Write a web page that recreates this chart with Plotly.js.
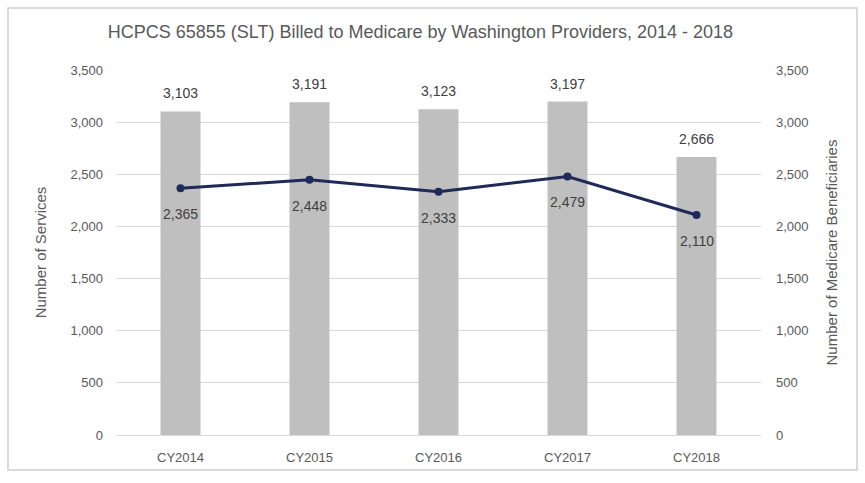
<!DOCTYPE html>
<html><head><meta charset="utf-8">
<script src="https://cdn.plot.ly/plotly-3.0.1.min.js"></script>
<style>html,body{margin:0;padding:0;background:#fff}#c{width:865px;height:483px}</style>
</head><body><div id="c"></div>
<script>
const categories = ["CY2014","CY2015","CY2016","CY2017","CY2018"];
const services = [3103,3191,3123,3197,2666];
const beneficiaries = [2365,2448,2333,2479,2110];
const tickVals = [0,500,1000,1500,2000,2500,3000,3500];

const L=116, R=104, T=70, B=48, W=865-L-R, H=483-T-B;
const px=x=>(x-L)/W, py=y=>(483-B-y)/H;
const FONT = '"Liberation Sans", Arial, sans-serif';
const TXT = '#595959';
const fmt = v=>v.toLocaleString('en-US');

const traces = [
 {type:'bar', x:categories, y:services, name:'Number of Services',
  marker:{color:'#BFBFBF'}, hoverinfo:'none'},
 {type:'scatter', mode:'lines+markers', x:categories, y:beneficiaries, yaxis:'y2',
  name:'Number of Medicare Beneficiaries', line:{color:'#1F2A58',width:3},
  marker:{color:'#1F2A58',size:8}, hoverinfo:'none'}
];
const annotations = [];
categories.forEach((c,i)=>{
  annotations.push({x:c, y:services[i], xref:'x', yref:'y', text:fmt(services[i]), showarrow:false,
    yshift:18, font:{size:14,color:'#404040'}});
  annotations.push({x:c, y:beneficiaries[i], xref:'x', yref:'y2', text:fmt(beneficiaries[i]), showarrow:false,
    yshift:-26, font:{size:14,color:'#404040'}});
});
const layout = {
 width:865, height:483, margin:{l:L,r:R,t:T,b:B}, showlegend:false,
 paper_bgcolor:'#fff', plot_bgcolor:'#fff', bargap:0.69,
 font:{family:FONT,color:TXT,size:13},
 title:{text:'HCPCS 65855 (SLT) Billed to Medicare by Washington Providers, 2014 - 2018',
   font:{size:18,color:TXT,family:FONT}, x:0.486, xanchor:'center', y:0.935, yanchor:'middle'},
 xaxis:{showgrid:false, showline:true, linecolor:'#D9D9D9', ticks:'', ticklabelstandoff:10, tickfont:{size:13,color:TXT}},
 yaxis:{range:[0,3500], tickvals:tickVals, tickformat:',', gridcolor:'#D9D9D9', zeroline:false,
   ticks:'', ticklabelstandoff:12, tickfont:{size:13,color:TXT},
   title:{text:'Number of Services', font:{size:15,color:TXT}, standoff:20}},
 yaxis2:{range:[0,3500], tickvals:tickVals, tickformat:',', overlaying:'y', side:'right',
   showgrid:false, zeroline:false, ticklabelstandoff:14, tickfont:{size:13,color:TXT},
   title:{text:'Number of Medicare Beneficiaries', font:{size:15,color:TXT}, standoff:18}},
 annotations:annotations,
 shapes:[
  {type:'rect', xref:'paper', yref:'paper', x0:px(8), x1:px(857), y0:py(470), y1:py(8),
   line:{color:'#D0D0D0',width:1.5}, layer:'below'}
 ]
};
Plotly.newPlot('c', traces, layout, {staticPlot:true, displayModeBar:false});
</script></body></html>
